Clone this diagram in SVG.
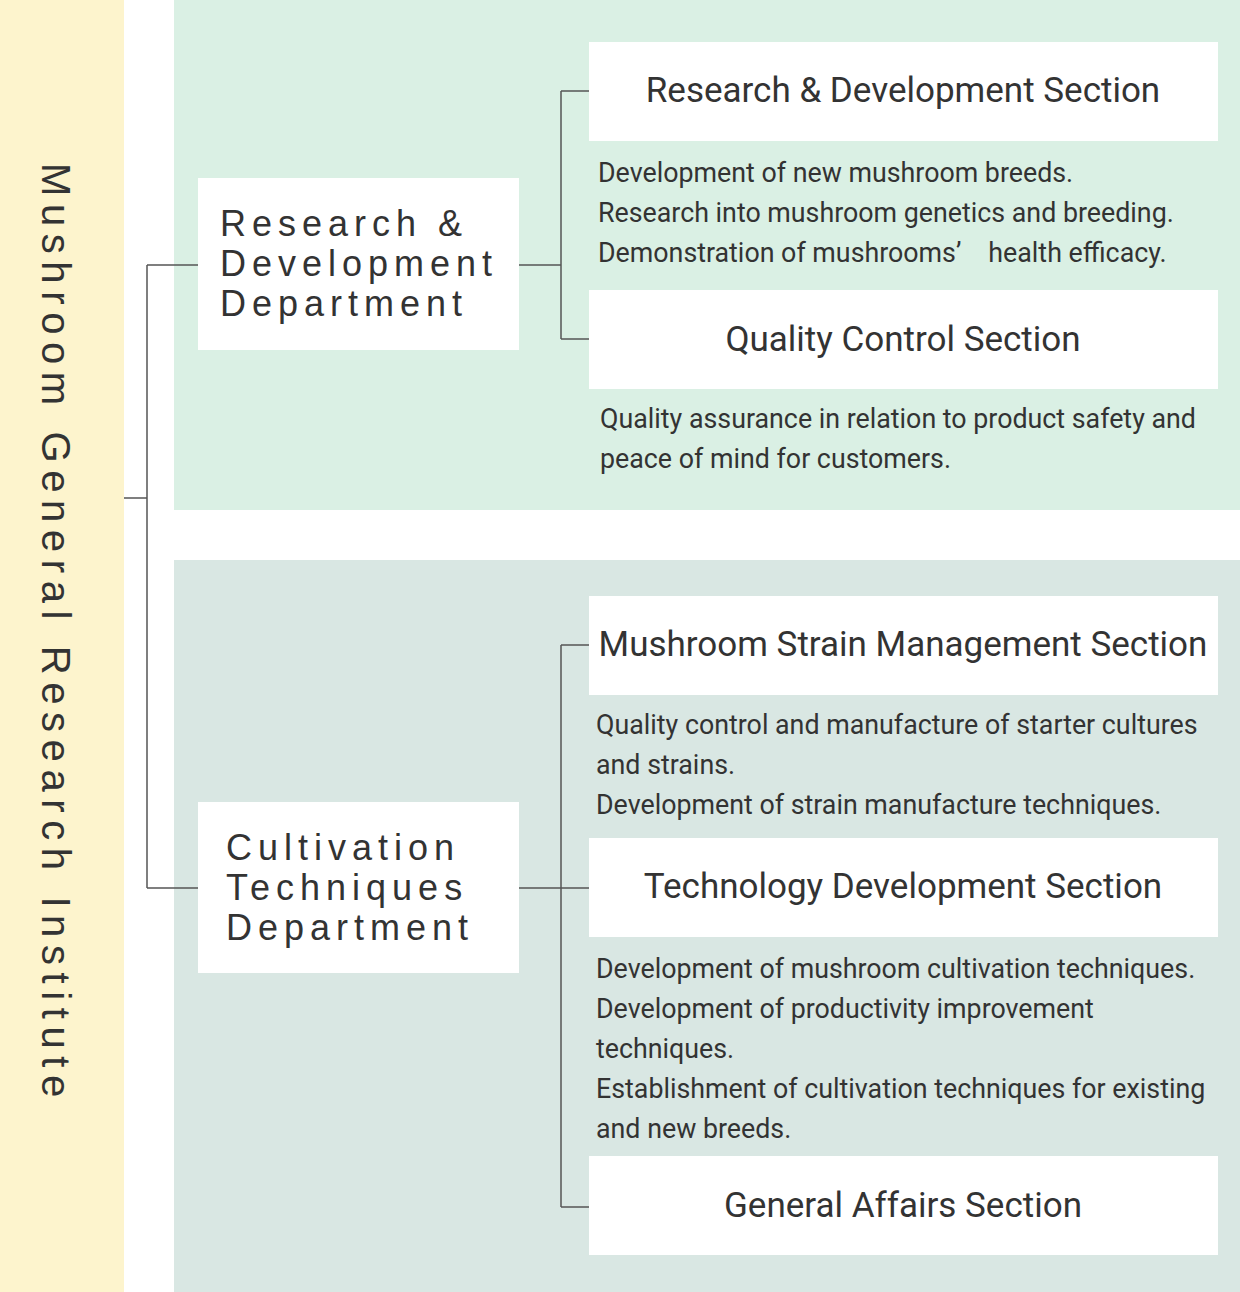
<svg xmlns="http://www.w3.org/2000/svg" width="1240" height="1292" viewBox="0 0 1240 1292">
<style>
.box{fill:#fff}
.ln{stroke:#555;stroke-width:1.5;fill:none}
.sec{font-family:Roboto,"Liberation Sans",sans-serif;font-size:35px;fill:#333;text-anchor:middle}
.desc{font-family:Roboto,"Liberation Sans",sans-serif;font-size:26.8px;fill:#333}
.dept{font-family:"Liberation Sans",Arial,sans-serif;font-size:36px;fill:#333;letter-spacing:6px}
</style>
<rect x="0" y="0" width="1240" height="1292" fill="#fff"/>
<rect x="0" y="0" width="124" height="1292" fill="#fdf4cd"/>
<rect x="174" y="0" width="1066" height="510" fill="#daf0e4"/>
<rect x="174" y="560" width="1066" height="732" fill="#d9e7e3"/>
<text transform="translate(42,163) rotate(90)" font-family="'Liberation Sans',Arial,sans-serif" font-size="40" fill="#333" letter-spacing="7.6">Mushroom General Research Institute</text>
<g id="connectors">
<path class="ln" d="M124 498H147M147 265V888M147 265H198M147 888H198"/>
<path class="ln" d="M519 265H561M561 91V339M561 91H589M561 339H589"/>
<path class="ln" d="M519 888H589M561 645V1207M561 645H589M561 1207H589"/>
</g>
<g id="dept1"><rect class="box" x="198" y="178" width="321" height="172"/>
<text class="dept" x="220" y="236">Research &amp;</text><text class="dept" x="220" y="276">Development</text><text class="dept" x="220" y="316">Department</text></g>
<g id="dept2"><rect class="box" x="198" y="802" width="321" height="171"/>
<text class="dept" x="226" y="860">Cultivation</text><text class="dept" x="226" y="900">Techniques</text><text class="dept" x="226" y="940">Department</text></g>
<g id="sec1"><rect class="box" x="589" y="42" width="629" height="99"/><text class="sec" x="903" y="102">Research &amp; Development Section</text></g>
<g id="desc1"><text class="desc" x="598" y="182">Development of new mushroom breeds.</text><text class="desc" x="598" y="222">Research into mushroom genetics and breeding.</text><text class="desc" x="598" y="262">Demonstration of mushrooms’　health efficacy.</text></g>
<g id="sec2"><rect class="box" x="589" y="290" width="629" height="99"/><text class="sec" x="903" y="351">Quality Control Section</text></g>
<g id="desc2"><text class="desc" x="600" y="428">Quality assurance in relation to product safety and</text><text class="desc" x="600" y="468">peace of mind for customers.</text></g>
<g id="sec3"><rect class="box" x="589" y="596" width="629" height="99"/><text class="sec" x="903" y="656">Mushroom Strain Management Section</text></g>
<g id="desc3"><text class="desc" x="596" y="734">Quality control and manufacture of starter cultures</text><text class="desc" x="596" y="774">and strains.</text><text class="desc" x="596" y="814">Development of strain manufacture techniques.</text></g>
<g id="sec4"><rect class="box" x="589" y="838" width="629" height="99"/><text class="sec" x="903" y="898">Technology Development Section</text></g>
<g id="desc4"><text class="desc" x="596" y="978">Development of mushroom cultivation techniques.</text><text class="desc" x="596" y="1018">Development of productivity improvement</text><text class="desc" x="596" y="1058">techniques.</text><text class="desc" x="596" y="1098">Establishment of cultivation techniques for existing</text><text class="desc" x="596" y="1138">and new breeds.</text></g>
<g id="sec5"><rect class="box" x="589" y="1156" width="629" height="99"/><text class="sec" x="903" y="1217">General Affairs Section</text></g>
</svg>
